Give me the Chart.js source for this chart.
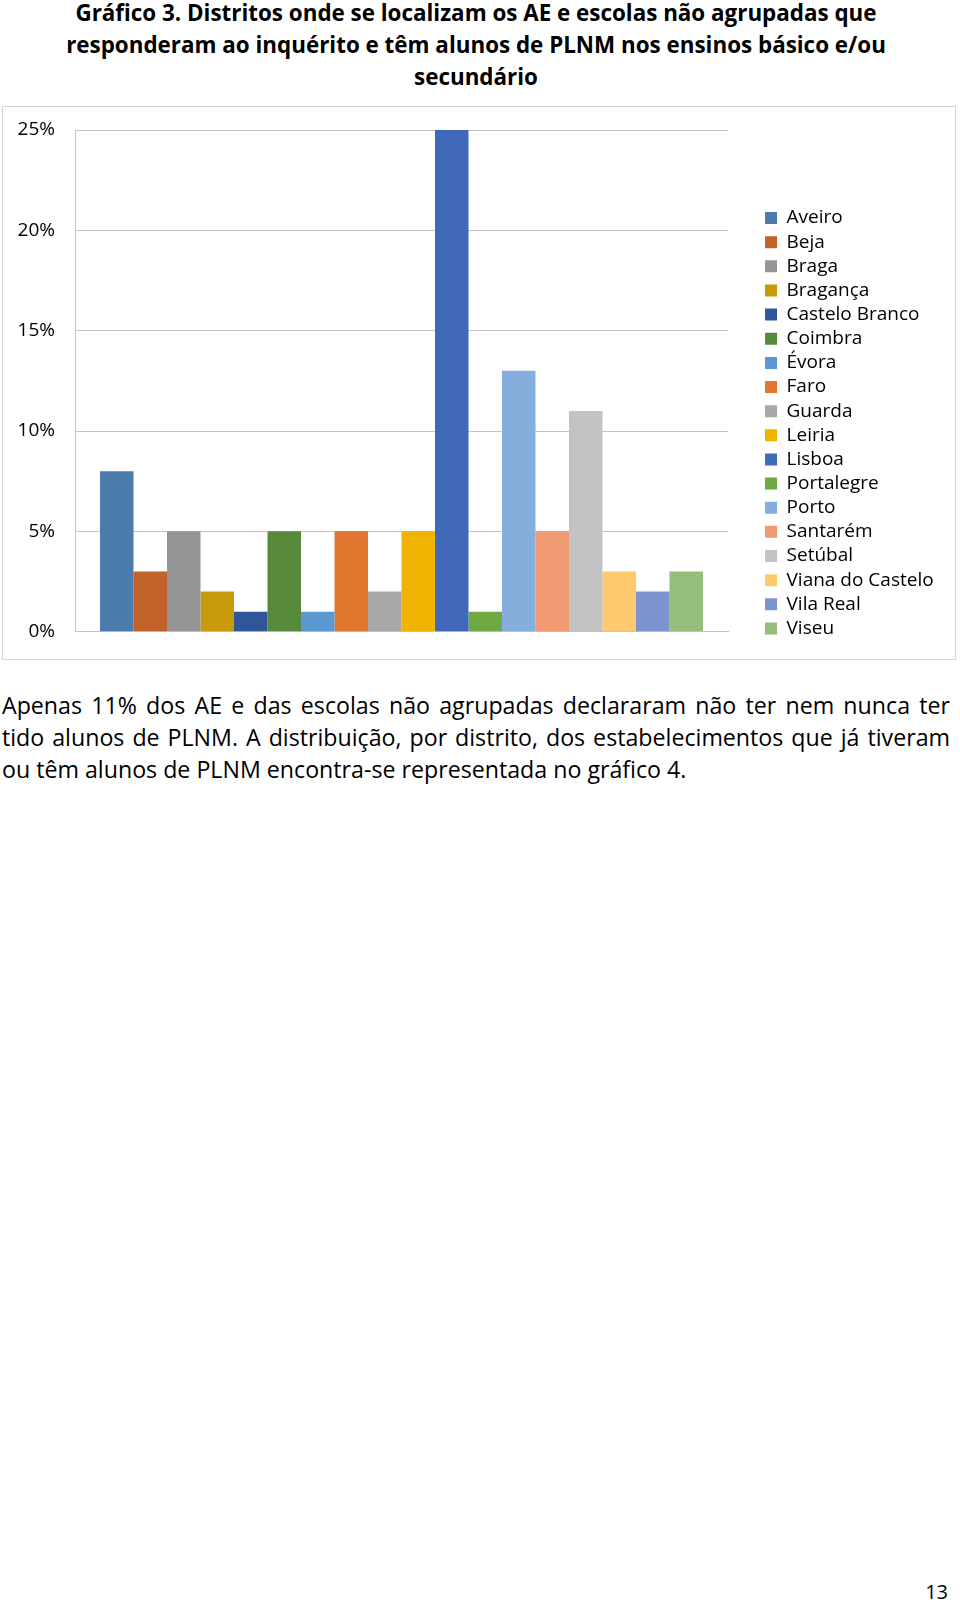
<!DOCTYPE html>
<html lang="pt">
<head>
<meta charset="utf-8">
<title>Gráfico 3</title>
<script src="https://cdn.jsdelivr.net/npm/chart.js@4.4.1/dist/chart.umd.min.js"></script>
<style>
  html, body { margin: 0; padding: 0; background: #fff; }
  body { width: 960px; height: 1603px; position: relative; overflow: hidden; font-family: 'Open Sans', sans-serif; color: #000; }
  #titulo { position: absolute; left: 0; top: -3.5px; width: 952px; text-align: center; font-weight: bold; font-size: 22.4px; line-height: 32px; }
  #caixa { position: absolute; left: 2px; top: 106px; width: 952px; height: 552px; border: 1px solid #d4d4d4; }
  #caixa canvas { position: absolute; left: 0; top: 0; }
  #texto { position: absolute; left: 2px; top: 689px; width: 948px; font-size: 23.2px; line-height: 32px; }
  #texto div { text-align: justify; text-align-last: justify; white-space: nowrap; }
  #texto div.ultima { text-align-last: left; }
  #pagina { position: absolute; right: 12px; top: 1578px; font-size: 20px; line-height: 28px; }
</style>
</head>
<body>
<div id="titulo">Gráfico 3. Distritos onde se localizam os AE e escolas não agrupadas que<br>responderam ao inquérito e têm alunos de PLNM nos ensinos básico e/ou<br>secundário</div>
<div id="caixa"><canvas id="distritosChart" width="952" height="552"></canvas></div>
<div id="texto">
  <div>Apenas 11% dos AE e das escolas não agrupadas declararam não ter nem nunca ter</div>
  <div>tido alunos de PLNM. A distribuição, por distrito, dos estabelecimentos que já tiveram</div>
  <div class="ultima">ou têm alunos de PLNM encontra-se representada no gráfico 4.</div>
</div>
<div id="pagina">13</div>
<script>
  'use strict';
  // dados do gráfico (percentagens por distrito)
  var distritos = ['Aveiro', 'Beja', 'Braga', 'Bragança', 'Castelo Branco', 'Coimbra', 'Évora', 'Faro', 'Guarda',
    'Leiria', 'Lisboa', 'Portalegre', 'Porto', 'Santarém', 'Setúbal', 'Viana do Castelo', 'Vila Real', 'Viseu'];
  var percentagens = [8, 3, 5, 2, 1, 5, 1, 5, 2, 5, 25, 1, 13, 5, 11, 3, 2, 3];
  var cores = ['#4A7BAB', '#C0622A', '#959595', '#C89A0A', '#30569A', '#578A3A', '#5B97D0', '#E0772F', '#A8A8A8',
    '#F0B400', '#3F69B8', '#70A844', '#85AEDD', '#F09B72', '#C3C3C3', '#FFC96E', '#7B94D0', '#95BE7A'];
  var ticksY = [0, 5, 10, 15, 20, 25];

  Chart.defaults.font.family = "'Open Sans', sans-serif";
  Chart.defaults.color = '#000';

  // largura e posição fixas da legenda, como no original
  var legendaFixa = {
    id: 'legendaFixa',
    beforeLayout: function(chart) {
      var lg = chart.legend;
      if (lg && !lg._fitFixo) {
        var fitOriginal = lg.fit;
        lg.fit = function() {
          fitOriginal.call(this);
          this.width = 227;
        };
        lg._fitFixo = true;
      }
    },
    afterLayout: function(chart) {
      var lg = chart.legend;
      lg.left = 756.9;
      lg.right = 952;
      lg.top = 96.4;
      lg.bottom = 96.4 + 470;
      lg.width = lg.right - lg.left;
      lg.height = lg.bottom - lg.top;
    }
  };

  var conjuntos = distritos.map(function(nome, i) {
    return {
      label: nome,
      data: [percentagens[i]],
      backgroundColor: cores[i],
      borderWidth: 0,
      categoryPercentage: 0.9234,
      barPercentage: 1
    };
  });

  var ctx = document.getElementById('distritosChart').getContext('2d');
  var distritosChart = new Chart(ctx, {
    type: 'bar',
    data: { labels: [''], datasets: conjuntos },
    options: {
      responsive: false,
      animation: false,
      devicePixelRatio: 1,
      layout: { padding: { left: 0, top: 23, right: 0, bottom: 27.3 } },
      plugins: {
        title: { display: false },
        tooltip: { enabled: false },
        legend: {
          position: 'right',
          align: 'start',
          labels: {
            boxWidth: 12,
            boxHeight: 12,
            padding: 5.14,
            color: '#000',
            font: { size: 19 }
          }
        }
      },
      scales: {
        x: {
          ticks: { display: false },
          grid: { display: false, drawTicks: false },
          border: { display: true, color: '#c4c4c4' },
          afterFit: function(s) { s.height = 0; s.paddingLeft = 0; s.paddingRight = 0; }
        },
        y: {
          min: 0,
          max: 25,
          afterBuildTicks: function(s) { s.ticks = ticksY.map(function(v) { return { value: v }; }); },
          ticks: {
            padding: 20,
            color: '#000',
            font: { size: 19 },
            callback: function(v) { return v + '%'; }
          },
          grid: { color: '#c4c4c4', drawTicks: false },
          border: { display: true, color: '#c4c4c4' },
          afterFit: function(s) { s.width = 72; s.paddingTop = 0; s.paddingBottom = 0; }
        }
      }
    },
    plugins: [legendaFixa]
  });
</script>
</body>
</html>
